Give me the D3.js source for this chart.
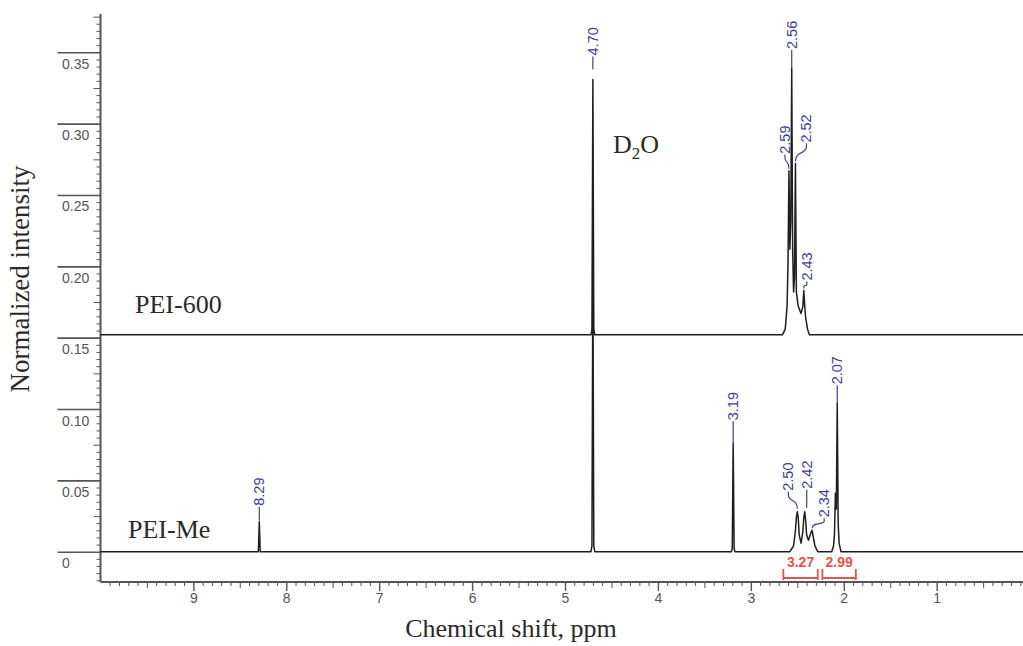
<!DOCTYPE html>
<html>
<head>
<meta charset="utf-8">
<script src="https://cdn.jsdelivr.net/npm/d3@7"></script>
<style>
  body { margin: 0; background: #fff; }
  svg { display: block; }
</style>
</head>
<body>
<svg id="nmr-chart"></svg>
<script>
/// data ////////////////////////////////
const ppmTicks = [9, 8, 7, 6, 5, 4, 3, 2, 1]
const intensityTicks = [0, 0.05, 0.1, 0.15, 0.2, 0.25, 0.3, 0.35]
const intensityLabels = ['0', '0.05', '0.10', '0.15', '0.20', '0.25', '0.30', '0.35']

// PEI-600 trace, intensity above its own (shifted) baseline
const pei600Offset = 0.152
const pei600Ppm = [10, 4.72, 4.71, 4.70, 4.69, 4.68, 2.66, 2.63, 2.61, 2.60, 2.59, 2.58, 2.57, 2.56, 2.55, 2.54, 2.53, 2.52, 2.51, 2.49, 2.46, 2.44, 2.43, 2.42, 2.41, 2.39, 2.37, 0]
const pei600Int = [0, 0, 0.004, 0.179, 0.004, 0, 0, 0.004, 0.02, 0.05, 0.115, 0.06, 0.08, 0.187, 0.06, 0.03, 0.04, 0.12, 0.03, 0.02, 0.015, 0.02, 0.031, 0.02, 0.012, 0.004, 0, 0]
const pei600Peaks = [4.70, 2.59, 2.56, 2.52, 2.43]

// PEI-Me trace
const peiMePpm = [10, 8.30, 8.29, 8.28, 4.72, 4.71, 4.70, 4.69, 4.68, 3.21, 3.20, 3.19, 3.18, 3.17, 2.58, 2.54, 2.52, 2.51, 2.50, 2.49, 2.48, 2.46, 2.44, 2.43, 2.42, 2.41, 2.40, 2.38, 2.36, 2.35, 2.34, 2.33, 2.31, 2.28, 2.13, 2.11, 2.10, 2.09, 2.08, 2.07, 2.06, 2.05, 2.03, 0]
const peiMeInt = [0, 0, 0.021, 0, 0, 0.004, 0.2, 0.004, 0, 0, 0.002, 0.076, 0.002, 0, 0, 0.004, 0.015, 0.024, 0.028, 0.024, 0.012, 0.006, 0.014, 0.024, 0.028, 0.022, 0.012, 0.008, 0.012, 0.014, 0.015, 0.011, 0.004, 0, 0, 0.004, 0.012, 0.041, 0.03, 0.104, 0.02, 0.006, 0, 0]
const peiMePeaks = [8.29, 3.19, 2.50, 2.42, 2.34, 2.07]

// integrals
const integralFrom = [2.65, 2.23]
const integralTo = [2.28, 1.87]
const integralValues = ['3.27', '2.99']

/// layout ////////////////////////////////
const width = 1023
const height = 646
const labelBlue = '#3e3e9a'
const integralRed = '#e5544c'
const axisGrey = '#555'

// pixel nudges for the peak labels: shift, lift above peak, gap to peak, bent leader
const labelLayout = {
  '4.70': { dx: 0, up: 23, gap: 10 },
  '2.59': { dx: -4, up: 16, gap: 2, bent: true },
  '2.56': { dx: 0, up: 18, gap: 0 },
  '2.52': { dx: 11, up: 20, gap: 2, bent: true },
  '2.43': { dx: 3, up: 9, gap: 2, bent: true },
  '8.29': { dx: 0, up: 15, gap: 1 },
  '3.19': { dx: 0, up: 22, gap: 0 },
  '2.50': { dx: -9, up: 20, gap: 3, bent: true },
  '2.42': { dx: 2, up: 22, gap: 4 },
  '2.34': { dx: 12, up: 12, gap: 2, bent: true },
  '2.07': { dx: 0, up: 18, gap: 0 }
}

const x = d3.scaleLinear().domain([10, 0]).range([100.4, 1029.6])
const y = d3.scaleLinear().domain([0, 0.35]).range([551.7, 52.3])

const svg = d3
  .select('#nmr-chart')
  .attr('width', width)
  .attr('height', height)

const fmt = d3.format('.2f')

/// y axis ////////////////////////////////
const yMinor = d3.range(-20, 377, 5).map(d => d / 1000)
const key = v => Math.round(v * 1000)

svg
  .append('g')
  .attr('transform', 'translate(100.5,0)')
  .call(
    d3
      .axisLeft(y)
      .tickValues(yMinor.filter(d => key(d) % 25 !== 0))
      .tickSize(4)
      .tickFormat('')
  )
  .call(g => g.select('.domain').remove())

svg
  .append('g')
  .attr('transform', 'translate(100.5,0)')
  .call(
    d3
      .axisLeft(y)
      .tickValues(yMinor.filter(d => key(d) % 25 === 0 && key(d) % 50 !== 0))
      .tickSize(7)
      .tickFormat('')
  )
  .call(g => g.select('.domain').remove())

const yMajor = svg
  .append('g')
  .attr('transform', 'translate(100.5,0)')
  .call(
    d3
      .axisLeft(y)
      .tickValues(intensityTicks)
      .tickSize(43)
      .tickFormat((d, i) => intensityLabels[i])
  )
  .call(g => g.select('.domain').remove())

yMajor
  .selectAll('text')
  .attr('x', -38.5)
  .attr('dy', 16)
  .attr('text-anchor', 'start')
  .attr('font-family', 'Liberation Sans, Arial, sans-serif')
  .attr('font-size', 14)
  .attr('fill', axisGrey)

yMajor.selectAll('line').attr('stroke-width', 1.6)

svg
  .append('line')
  .attr('x1', 100.5)
  .attr('x2', 100.5)
  .attr('y1', 14)
  .attr('y2', 582)
  .attr('stroke', axisGrey)
  .attr('stroke-width', 2)

/// x axis ////////////////////////////////
const xMinor = d3.range(0, 101).map(d => d / 10)

svg
  .append('g')
  .attr('transform', 'translate(0,582)')
  .call(
    d3
      .axisBottom(x)
      .tickValues(xMinor.filter(d => Math.round(d * 10) % 5 !== 0))
      .tickSize(4)
      .tickFormat('')
  )
  .call(g => g.select('.domain').remove())

svg
  .append('g')
  .attr('transform', 'translate(0,582)')
  .call(
    d3
      .axisBottom(x)
      .tickValues(xMinor.filter(d => Math.round(d * 10) % 10 === 5))
      .tickSize(6)
      .tickFormat('')
  )
  .call(g => g.select('.domain').remove())

const xMajor = svg
  .append('g')
  .attr('transform', 'translate(0,582)')
  .call(
    d3
      .axisBottom(x)
      .tickValues(ppmTicks)
      .tickSize(9)
      .tickFormat(d3.format('d'))
  )
  .call(g => g.select('.domain').remove())

xMajor
  .selectAll('text')
  .attr('y', 11)
  .attr('font-family', 'Liberation Sans, Arial, sans-serif')
  .attr('font-size', 14)
  .attr('fill', axisGrey)

xMajor.selectAll('line').attr('stroke-width', 1.4)

svg
  .append('line')
  .attr('x1', 100.5)
  .attr('x2', width)
  .attr('y1', 582)
  .attr('y2', 582)
  .attr('stroke', axisGrey)
  .attr('stroke-width', 2)

svg.selectAll('.tick line').attr('stroke', axisGrey)

/// spectra ////////////////////////////////
function drawTrace(ppm, ints, offset) {
  svg
    .append('path')
    .datum(d3.zip(ppm, ints))
    .attr('fill', 'none')
    .attr('stroke', '#1e1e1e')
    .attr('stroke-width', 1.5)
    .attr('stroke-linejoin', 'round')
    .attr(
      'd',
      d3
        .line()
        .x(d => x(d[0]))
        .y(d => y(d[1] + offset))
    )
}

drawTrace(peiMePpm, peiMeInt, 0)
drawTrace(pei600Ppm, pei600Int, pei600Offset)

/// peak labels ////////////////////////////////
function drawPeakLabels(peaks, ppm, ints, offset) {
  peaks.forEach(p => {
    const lay = labelLayout[fmt(p)]
    const px = x(p)
    const top = y(ints[ppm.indexOf(p)] + offset)
    const tx = px + lay.dx
    const tb = top - lay.up
    const end = top - lay.gap

    if (lay.bent) {
      const mid = (tb + end) / 2
      svg
        .append('path')
        .attr(
          'd',
          `M${tx},${tb} L${tx},${tb + 3} C${tx},${mid + 2} ${px},${mid - 2} ${px},${end}`
        )
        .attr('fill', 'none')
        .attr('stroke', labelBlue)
        .attr('stroke-width', 1.2)
    } else {
      svg
        .append('line')
        .attr('x1', tx)
        .attr('x2', tx)
        .attr('y1', tb)
        .attr('y2', end)
        .attr('stroke', labelBlue)
        .attr('stroke-width', 1.2)
    }

    svg
      .append('text')
      .attr('transform', `translate(${tx},${tb - 1}) rotate(-90)`)
      .attr('text-anchor', 'start')
      .attr('dominant-baseline', 'central')
      .attr('font-family', 'Liberation Sans, Arial, sans-serif')
      .attr('font-size', 14.5)
      .attr('fill', labelBlue)
      .text(fmt(p))
  })
}

drawPeakLabels(pei600Peaks, pei600Ppm, pei600Int, pei600Offset)
drawPeakLabels(peiMePeaks, peiMePpm, peiMeInt, 0)

/// integrals ////////////////////////////////
integralValues.forEach((v, i) => {
  const x1 = x(integralFrom[i])
  const x2 = x(integralTo[i])
  svg
    .append('path')
    .attr('d', `M${x1},569 L${x1},580 M${x1},578 L${x2},578 M${x2},569 L${x2},580`)
    .attr('fill', 'none')
    .attr('stroke', integralRed)
    .attr('stroke-width', 1.8)
  svg
    .append('text')
    .attr('x', (x1 + x2) / 2)
    .attr('y', 567)
    .attr('text-anchor', 'middle')
    .attr('font-family', 'Liberation Sans, Arial, sans-serif')
    .attr('font-size', 14)
    .attr('font-weight', 'bold')
    .attr('fill', integralRed)
    .text(v)
})

/// text labels ////////////////////////////////
const serif = 'Liberation Serif, Times New Roman, serif'

svg
  .append('text')
  .attr('transform', 'translate(20,279) rotate(-90)')
  .attr('text-anchor', 'middle')
  .attr('dominant-baseline', 'central')
  .attr('font-family', serif)
  .attr('font-size', 27)
  .attr('fill', '#2a2a2a')
  .text('Normalized intensity')

svg
  .append('text')
  .attr('x', 511)
  .attr('y', 637)
  .attr('text-anchor', 'middle')
  .attr('font-family', serif)
  .attr('font-size', 26)
  .attr('fill', '#2a2a2a')
  .text('Chemical shift, ppm')

svg
  .append('text')
  .attr('x', 135)
  .attr('y', 313)
  .attr('font-family', serif)
  .attr('font-size', 26)
  .attr('fill', '#2a2a2a')
  .text('PEI-600')

svg
  .append('text')
  .attr('x', 128)
  .attr('y', 538)
  .attr('font-family', serif)
  .attr('font-size', 26)
  .attr('fill', '#2a2a2a')
  .text('PEI-Me')

const d2o = svg
  .append('text')
  .attr('x', 613)
  .attr('y', 153)
  .attr('font-family', serif)
  .attr('font-size', 26)
  .attr('fill', '#2a2a2a')

d2o.append('tspan').text('D')
d2o
  .append('tspan')
  .attr('font-size', 17)
  .attr('dy', 6)
  .text('2')
d2o
  .append('tspan')
  .attr('dy', -6)
  .text('O')
</script>
</body>
</html>
